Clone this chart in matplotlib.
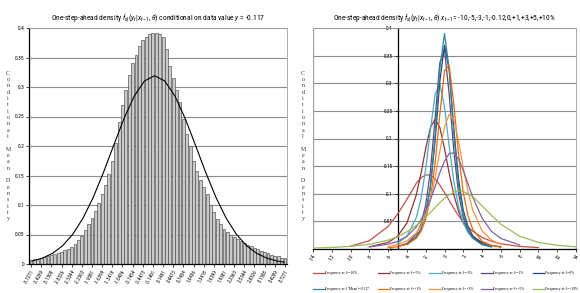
import numpy as np
import matplotlib
matplotlib.use('Agg')
import matplotlib.pyplot as plt
from matplotlib import font_manager as fm


def first_font(names):
    for name in names:
        try:
            fm.findfont(fm.FontProperties(family=name), fallback_to_default=False)
            return name
        except Exception:
            pass
    return None


narrow = first_font(['Liberation Sans Narrow', 'Arial Narrow', 'DejaVu Sans Condensed',
                     'Roboto Condensed', 'Open Sans Condensed'])
base = narrow or 'Liberation Sans'
shrink = 1.0 if narrow else 0.8

plt.rcParams['font.family'] = [base, 'DejaVu Sans']
plt.rcParams['mathtext.fontset'] = 'custom'
plt.rcParams['mathtext.rm'] = base
plt.rcParams['mathtext.it'] = base + ':italic'
plt.rcParams['mathtext.bf'] = base + ':bold'

# ---------------- left panel: simulated one-step-ahead density ----------------
hist_labels = ['-3.7271', '-3.4289', '-3.1308', '-2.8326', '-2.5344', '-2.2363', '-1.9381',
               '-1.6399', '-1.3418', '-1.0436', '-0.7454', '-0.4473', '-0.1491', '0.1491',
               '0.4473', '0.7454', '1.0436', '1.3418', '1.6399', '1.9381', '2.2363', '2.5344',
               '2.8326', '3.1308', '3.4289', '3.7271']
hist_density = [0.007, 0.008, 0.009, 0.010, 0.012, 0.013, 0.015, 0.017, 0.019, 0.021,
                0.023, 0.026, 0.029, 0.034, 0.040, 0.048, 0.057, 0.067, 0.078, 0.090,
                0.103, 0.118, 0.134, 0.152, 0.175, 0.205, 0.240, 0.270, 0.295, 0.320,
                0.340, 0.355, 0.370, 0.380, 0.385, 0.389, 0.391, 0.391, 0.389, 0.384,
                0.365, 0.335, 0.315, 0.295, 0.275, 0.245, 0.220, 0.200, 0.175, 0.158,
                0.142, 0.130, 0.118, 0.100, 0.088, 0.076, 0.068, 0.060, 0.054, 0.049,
                0.045, 0.042, 0.039, 0.036, 0.033, 0.030, 0.027, 0.025, 0.022, 0.020,
                0.018, 0.016, 0.014, 0.013, 0.011, 0.010]
normal_x = [-3.7, -3.4, -3.1, -2.8, -2.5, -2.2, -1.9, -1.6, -1.3, -1.0, -0.7, -0.4, -0.1,
            0.2, 0.5, 0.8, 1.1, 1.4, 1.7, 2.0, 2.3, 2.6, 2.9, 3.2, 3.5, 3.7]
normal_y = [0.0050, 0.0098, 0.0179, 0.0310, 0.0505, 0.0778, 0.1131, 0.1553, 0.2013, 0.2463,
            0.2844, 0.3101, 0.3191, 0.3101, 0.2844, 0.2463, 0.2013, 0.1553, 0.1131, 0.0778,
            0.0505, 0.0310, 0.0179, 0.0098, 0.0050, 0.0031]

# ---------------- right panel: densities for several x_{t-1} ----------------
x_grid = [-14, -12, -10, -8, -6, -5, -4, -3, -2.5, -2, -1.5, -1, -0.5, 0, 0.5, 1, 1.5, 2,
          2.5, 3, 4, 5, 6, 8, 10, 12, 14]
N = None
dens_m10 = [N, N, 0.005, 0.015, 0.041, 0.063, 0.090, 0.119, 0.129, 0.134, 0.134, 0.127, 0.116,
            0.102, 0.088, 0.073, 0.060, 0.049, 0.040, 0.032, 0.021, 0.014, 0.0095, 0.0047,
            0.0025, N, N]
dens_m5 = [N, N, N, 0.0039, 0.012, 0.023, 0.047, 0.098, 0.137, 0.182, 0.220, 0.235, 0.220,
           0.182, 0.137, 0.098, 0.068, 0.047, 0.033, 0.023, 0.012, 0.0065, 0.0039, N, N, N, N]
dens_m3 = [N, N, N, N, N, 0.0105, 0.023, 0.057, 0.091, 0.145, 0.215, 0.280, 0.299, 0.257,
           0.186, 0.122, 0.076, 0.048, 0.030, 0.020, 0.0093, 0.0047, N, N, N, N, N]
dens_m1 = [N, N, N, N, N, 0.0046, 0.010, 0.027, 0.045, 0.080, 0.141, 0.237, 0.337, 0.360,
           0.280, 0.176, 0.100, 0.057, 0.033, 0.020, 0.0082, N, N, N, N, N, N]
dens_0 = [N, N, N, N, N, N, 0.0087, 0.022, 0.036, 0.064, 0.112, 0.196, 0.303, 0.369, 0.324,
          0.216, 0.126, 0.070, 0.041, 0.024, 0.0093, 0.0042, N, N, N, N, N]
dens_mean = [N, N, N, N, N, N, 0.0078, 0.020, 0.035, 0.062, 0.114, 0.206, 0.326, 0.390, 0.326,
             0.206, 0.114, 0.062, 0.035, 0.020, 0.0078, 0.0037, N, N, N, N, N]
dens_p1 = [N, N, N, N, 0.0022, 0.0041, 0.0086, 0.020, 0.032, 0.054, 0.091, 0.155, 0.243, 0.323,
           0.332, 0.261, 0.171, 0.102, 0.060, 0.036, 0.014, 0.0063, 0.0033, N, N, N, N]
dens_p3 = [N, N, N, N, 0.0044, 0.0079, 0.0147, 0.029, 0.042, 0.061, 0.090, 0.128, 0.177, 0.221,
           0.244, 0.234, 0.195, 0.147, 0.104, 0.071, 0.033, 0.016, 0.0087, N, N, N, N]
dens_p5 = [N, N, N, 0.0038, 0.0086, 0.0138, 0.023, 0.040, 0.053, 0.069, 0.089, 0.113, 0.138,
           0.159, 0.173, 0.174, 0.163, 0.142, 0.118, 0.094, 0.056, 0.032, 0.019, 0.0074, N, N, N]
dens_p10 = [0.0018, 0.0028, 0.0048, 0.0085, 0.016, 0.022, 0.031, 0.043, 0.049, 0.058, 0.066,
            0.075, 0.084, 0.092, 0.098, 0.103, 0.105, 0.104, 0.100, 0.095, 0.078, 0.061, 0.045,
            0.023, 0.012, 0.0067, 0.0039]

series_labels = ['Frequency xt-1=-10%', 'Frequency xt-1=-5%', 'Frequency xt-1=-3%',
                 'Frequency xt-1=-1%', 'Frequency xt-1=0%',
                 "Frequency xt-1 'Mean'=-0.117", 'Frequency xt-1=+1%',
                 'Frequency xt-1=+3%', 'Frequency xt-1=+5%', 'Frequency xt-1=+10%']
series_colors = ['#C0504D', '#943634', '#4BACC6', '#604A7B', '#1F497D',
                 '#31859C', '#E46C0A', '#F79646', '#8064A2', '#9BBB59']

ytick_vals = [0, 0.05, 0.1, 0.15, 0.2, 0.25, 0.3, 0.35, 0.4]
ytick_labels = ['0', '0.05', '0.1', '0.15', '0.2', '0.25', '0.3', '0.35', '0.4']
xtick_right = [-14, -12, -10, -8, -6, -4, -2, 0, 2, 4, 6, 8, 10, 12, 14]

GRID = '#8c8c8c'
FRAME = '#a0a0a0'
W, H = 580, 293

fig = plt.figure(figsize=(W / 100, H / 100), dpi=100)
fig.patch.set_facecolor('white')

# ---- left axes ----
ax1 = fig.add_axes([29 / W, 1 - 264 / H, (287 - 29) / W, (264 - 28) / H])
n_bins = len(hist_density)
centers = np.linspace(float(hist_labels[0]), float(hist_labels[-1]), n_bins)
step = centers[1] - centers[0]
ax1.bar(centers, hist_density, width=step * 0.85, color='#c9c9c9', edgecolor='#4a4a4a',
        linewidth=0.45, zorder=2)
ax1.plot(normal_x, normal_y, color='black', lw=0.8, zorder=3)
ax1.set_xlim(centers[0] - step * 0.6, centers[-1] + step * 0.6)
ax1.set_ylim(0, 0.4)
tick_pos = np.linspace(centers[0], centers[-1], len(hist_labels))
ax1.set_xticks(tick_pos)
ax1.set_xticklabels(hist_labels, rotation=60, ha='right', va='top', fontsize=3.6 * shrink,
                    rotation_mode='anchor')
ax1.set_yticks(ytick_vals)
ax1.set_yticklabels(ytick_labels, fontsize=4 * shrink)
ax1.yaxis.grid(True, color=GRID, lw=0.8)
ax1.set_axisbelow(True)
for s in ['top', 'right']:
    ax1.spines[s].set_color(FRAME)
    ax1.spines[s].set_linewidth(0.6)
for s in ['left', 'bottom']:
    ax1.spines[s].set_color('black')
    ax1.spines[s].set_linewidth(0.9)
ax1.tick_params(axis='both', length=2, width=0.5, pad=1.5)
ax1.set_title(r'One-step-ahead density $f_{x|}(y_t|x_{t-1},\theta)$ conditional on data value '
              r'$y$ = -0.117', fontsize=5.4 * shrink, pad=6)

# ---- right axes ----
ax2 = fig.add_axes([313 / W, 1 - 249 / H, (576 - 313) / W, (249 - 28) / H])
xg = np.array(x_grid, dtype=float)
all_series = [dens_m10, dens_m5, dens_m3, dens_m1, dens_0,
              dens_mean, dens_p1, dens_p3, dens_p5, dens_p10]
handles = []
for vals, lab, col in zip(all_series, series_labels, series_colors):
    h, = ax2.plot(xg, np.array(vals, dtype=float), color=col, lw=0.9, label=lab, zorder=3)
    handles.append(h)
ax2.set_xlim(-14, 14)
ax2.set_ylim(0, 0.4)
ax2.spines['left'].set_position(('data', -5))
ax2.spines['left'].set_color('black')
ax2.spines['left'].set_linewidth(0.9)
ax2.spines['bottom'].set_color('black')
ax2.spines['bottom'].set_linewidth(0.9)
for s in ['top', 'right']:
    ax2.spines[s].set_color(FRAME)
    ax2.spines[s].set_linewidth(0.6)
ax2.axvline(-14, color=FRAME, lw=0.9, zorder=1)
ax2.set_xticks(xtick_right)
ax2.set_xticklabels([str(v) for v in xtick_right], rotation=60, ha='right', va='top',
                    fontsize=3.8 * shrink, rotation_mode='anchor')
ax2.set_yticks(ytick_vals)
ax2.set_yticklabels(ytick_labels, fontsize=3.8 * shrink)
ax2.yaxis.grid(True, color=GRID, lw=0.8)
ax2.set_axisbelow(True)
ax2.tick_params(axis='both', length=2, width=0.5, pad=1.5)
ax2.set_title(r'One-step-ahead density $f_{x|}(y_t|x_{t-1},\theta)$ $x_{t-1}$= '
              r'-10,-5,-3,-1,-0.12,0,+1,+3,+5,+10%', fontsize=5.4 * shrink, pad=6)

# legend: row-wise order in 5 columns
order = [0, 5, 1, 6, 2, 7, 3, 8, 4, 9]
fig.legend([handles[i] for i in order], [series_labels[i] for i in order],
           loc='upper left', bbox_to_anchor=(313 / W, 0.0, (578 - 313) / W, 1 - 271 / H),
           mode='expand', ncol=5, frameon=False, handlelength=3.2,
           handletextpad=0.2, labelspacing=3.4, borderaxespad=0, borderpad=0,
           columnspacing=0.4, prop={'family': 'Liberation Serif', 'size': 2.6})

# stacked vertical axis titles
stack = '\n'.join(list('Conditional Mean Density'))
fig.text(8 / W, 1 - 146 / H, stack, ha='center', va='center', fontsize=4.2,
         family='Liberation Serif', linespacing=1.33, color='#333333')
fig.text(303 / W, 1 - 146 / H, stack, ha='center', va='center', fontsize=4.2,
         family='Liberation Serif', linespacing=1.33, color='#333333')

fig.savefig('out.png', dpi=100)
